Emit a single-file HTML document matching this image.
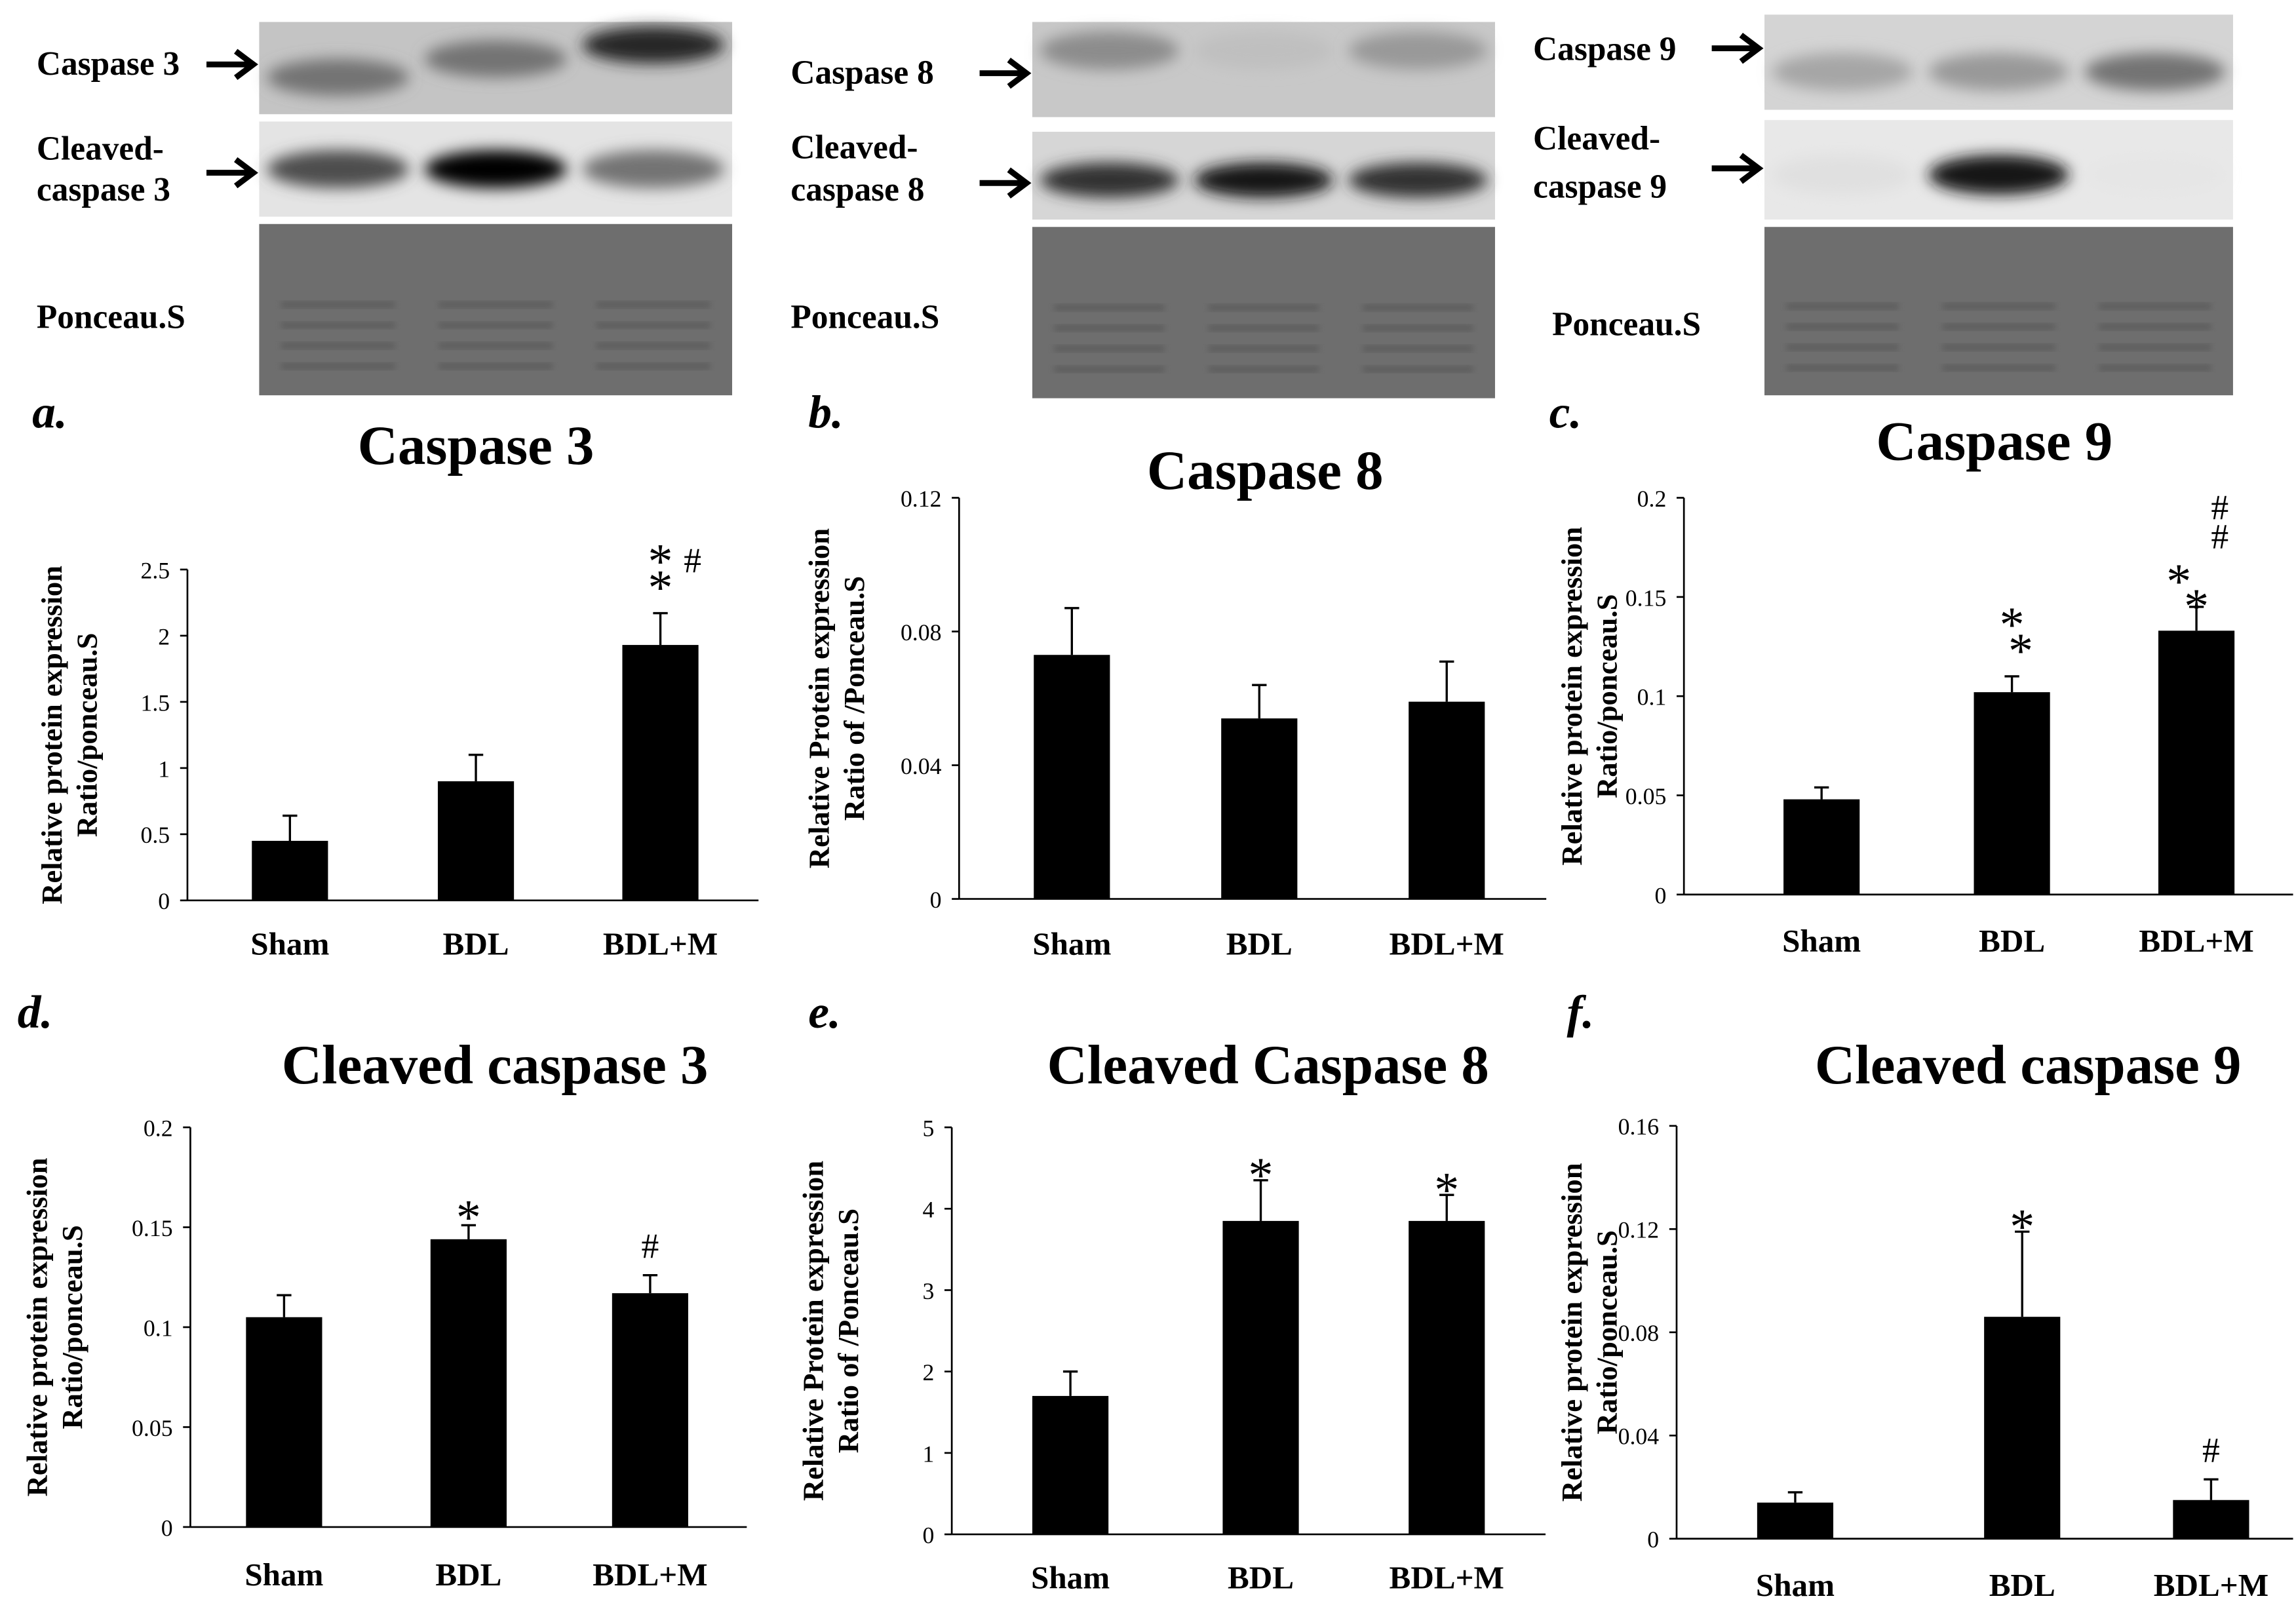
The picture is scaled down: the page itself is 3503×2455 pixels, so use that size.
<!DOCTYPE html>
<html><head><meta charset="utf-8"><style>
html,body{margin:0;padding:0;background:#fff;}
svg{display:block;}
text{font-family:"Liberation Serif",serif;font-weight:bold;fill:#000;}
</style></head><body>
<svg id="fig" width="3503" height="2455" viewBox="0 0 1568 1099" preserveAspectRatio="none" xmlns="http://www.w3.org/2000/svg">
<defs>
<filter id="blur" x="-20%" y="-50%" width="140%" height="200%"><feGaussianBlur stdDeviation="5"/></filter>
<filter id="blur2"><feGaussianBlur stdDeviation="2"/></filter>
</defs>
<g id="blots"></g>
<g id="charts"></g>
</svg>
<script>
const NS="http://www.w3.org/2000/svg";
const categories=["Sham","BDL","BDL+M"];
const casp3Values=[0.45,0.9,1.93];
const casp3Errors=[0.19,0.2,0.24];
const casp3Ticks=["0","0.5","1","1.5","2","2.5"];
const casp8Values=[0.073,0.054,0.059];
const casp8Errors=[0.014,0.01,0.012];
const casp8Ticks=["0","0.04","0.08","0.12"];
const casp9Values=[0.048,0.102,0.133];
const casp9Errors=[0.006,0.008,0.012];
const casp9Ticks=["0","0.05","0.1","0.15","0.2"];
const ccasp3Values=[0.105,0.144,0.117];
const ccasp3Errors=[0.011,0.007,0.009];
const ccasp3Ticks=["0","0.05","0.1","0.15","0.2"];
const ccasp8Values=[1.7,3.85,3.85];
const ccasp8Errors=[0.3,0.5,0.32];
const ccasp8Ticks=["0","1","2","3","4","5"];
const ccasp9Values=[0.014,0.086,0.015];
const ccasp9Errors=[0.004,0.033,0.008];
const ccasp9Ticks=["0","0.04","0.08","0.12","0.16"];

function mk(tag,attrs,parent,txt){const e=document.createElementNS(NS,tag);for(const k in attrs)e.setAttribute(k,attrs[k]);if(txt!==undefined)e.textContent=txt;parent.appendChild(e);return e;}

const panels=[
 {letter:"a.",lx:22,ly:292,title:"Caspase 3",tx:325,ty:317,ax:128,y0:615,y1:389,max:2.5,cx:[198,325,451],bw:52,vals:casp3Values,errs:casp3Errors,ticks:casp3Ticks,xl:652,yt:["Relative protein expression","Ratio/ponceau.S"],ytx:42,
  ann:[[2,"*",0,-38],[2,"*",0,-20],[2,"#",22,-28]]},
 {letter:"b.",lx:552,ly:292,title:"Caspase 8",tx:864,ty:334,ax:655,y0:614,y1:340,max:0.12,cx:[732,860,988],bw:52,vals:casp8Values,errs:casp8Errors,ticks:casp8Ticks,xl:652,yt:["Relative Protein expression","Ratio of /Ponceau.S"],ytx:566,ann:[]},
 {letter:"c.",lx:1058,ly:292,title:"Caspase 9",tx:1362,ty:314,ax:1150,y0:611,y1:340,max:0.2,cx:[1244,1374,1500],bw:52,vals:casp9Values,errs:casp9Errors,ticks:casp9Ticks,xl:650,yt:["Relative protein expression","Ratio/ponceau.S"],ytx:1080,
  ann:[[1,"*",0,-38],[1,"*",6,-20],[2,"*",-12,-20],[2,"*",0,-3],[2,"#",16,-40],[2,"#",16,-60]]},
 {letter:"d.",lx:12,ly:702,title:"Cleaved caspase 3",tx:338,ty:740,ax:130,y0:1043,y1:770,max:0.2,cx:[194,320,444],bw:52,vals:ccasp3Values,errs:ccasp3Errors,ticks:ccasp3Ticks,xl:1083,yt:["Relative protein expression","Ratio/ponceau.S"],ytx:32,
  ann:[[1,"*",0,-8],[2,"#",0,-12]]},
 {letter:"e.",lx:552,ly:702,title:"Cleaved Caspase 8",tx:866,ty:740,ax:650,y0:1048,y1:770,max:5,cx:[731,861,988],bw:52,vals:ccasp8Values,errs:ccasp8Errors,ticks:ccasp8Ticks,xl:1085,yt:["Relative Protein expression","Ratio of /Ponceau.S"],ytx:562,
  ann:[[1,"*",0,-6],[2,"*",0,-6]]},
 {letter:"f.",lx:1070,ly:702,title:"Cleaved caspase 9",tx:1385,ty:740,ax:1145,y0:1051,y1:769,max:0.16,cx:[1226,1381,1510],bw:52,vals:ccasp9Values,errs:ccasp9Errors,ticks:ccasp9Ticks,xl:1090,yt:["Relative protein expression","Ratio/ponceau.S"],ytx:1080,
  ann:[[1,"*",0,-6],[2,"#",0,-12]]}
];
const charts=document.getElementById("charts");
panels.forEach((p,pi)=>{
 const g=mk("g",{},charts);
 
 
 const yScale=v=>p.y0-(v/p.max)*(p.y0-p.y1);
 const L=mk("text",{x:p.lx,y:p.ly,"font-size":32,"font-style":"italic"},g,p.letter);
 
 
 const T=mk("text",{x:p.tx,y:p.ty,"font-size":38,"text-anchor":"middle"},g,p.title);
 
 
 const ax=mk("line",{x1:p.ax,y1:p.y1,x2:p.ax,y2:p.y0,stroke:"#000","stroke-width":1.2},g);
 
 
 const xa=mk("line",{x1:p.ax,y1:p.y0,x2:Math.min(1566,p.cx[2]+(p.cx[2]-p.cx[1])/2+4),y2:p.y0,stroke:"#000","stroke-width":1.2},g);
 
 
 const n=p.ticks.length-1;
 p.ticks.forEach((t,i)=>{
  const v=p.max*i/n, y=yScale(v);
  mk("line",{x1:p.ax-5,y1:y,x2:p.ax,y2:y,stroke:"#000","stroke-width":1.2},g);
  const tl=mk("text",{x:p.ax-12,y:y+6,"font-size":16,"text-anchor":"end",style:"font-weight:normal"},g,t);
  
  
 });
 const yt=mk("text",{transform:`translate(${p.ytx},${(p.y0+p.y1)/2}) rotate(-90)`,"font-size":20,"text-anchor":"middle"},g);
 
 
 mk("tspan",{x:0,dy:0},yt,p.yt[0]);
 mk("tspan",{x:0,dy:24},yt,p.yt[1]);
 p.vals.forEach((v,i)=>{
  const top=yScale(v), et=yScale(v+p.errs[i]);
  const b=mk("rect",{x:p.cx[i]-p.bw/2,y:top,width:p.bw,height:p.y0-top,fill:"#000"},g);
  
  
  const e=mk("path",{d:`M${p.cx[i]},${top}V${et}M${p.cx[i]-5},${et}H${p.cx[i]+5}`,stroke:"#000","stroke-width":1.5,fill:"none"},g);
  
  
  const xl=mk("text",{x:p.cx[i],y:p.xl,"font-size":22,"text-anchor":"middle"},g,categories[i]);
  
  
 });
 p.ann.forEach(a=>{
  const i=a[0], y=yScale(p.vals[i]+p.errs[i]);
  const s=mk("text",{x:p.cx[i]+a[2],y:y+a[3]+(a[1]=="*"?14:0),"font-size":a[1]=="*"?34:24,style:"font-weight:normal","text-anchor":"middle"},g,a[1]);
  
  
 });
});

// blots
const blots=document.getElementById("blots");
const blotPanels=[
 {x:177,w:323,rows:[[15,78,"#c4c4c4",[0.55,0.55,0.85],[0.6,0.4,0.25]],[83,148,"#e4e4e4",[0.7,1,0.55],[0.5,0.5,0.5]],[153,270,"#6e6e6e",null]],
  labels:[["Caspase 3",25,51,44],["Cleaved-",25,109,null],["caspase 3",25,137,118],["Ponceau.S",25,224,null]]},
 {x:705,w:316,rows:[[15,80,"#c8c8c8",[0.45,0.25,0.4],[0.3,0.3,0.3]],[90,150,"#d6d6d6",[0.8,0.9,0.8],[0.55,0.55,0.55]],[155,272,"#6e6e6e",null]],
  labels:[["Caspase 8",540,57,50],["Cleaved-",540,108,null],["caspase 8",540,137,125]],extra:[["Ponceau.S",540,224]]},
 {x:1205,w:320,rows:[[10,75,"#d4d4d4",[0.35,0.4,0.55],[0.6,0.6,0.6]],[82,150,"#e8e8e8",[0.12,0.9,0.1],[0.55,0.55,0.55]],[155,270,"#6e6e6e",null]],
  labels:[["Caspase 9",1047,41,33],["Cleaved-",1047,102,null],["caspase 9",1047,135,115]],extra:[["Ponceau.S",1060,229]]}
];
blotPanels.forEach((bp,bi)=>{
 const g=mk("g",{},blots);
 
 
 bp.rows.forEach(r=>{
  const h=r[1]-r[0];
  const rr=mk("rect",{x:bp.x,y:r[0],width:bp.w,height:h,fill:r[2]},g);
  
  
  const lw=bp.w/3;
  if(r[3]){
   r[3].forEach((d,i)=>{
    const c=Math.round(255*(1-d));
    const e=mk("ellipse",{cx:bp.x+lw*(i+0.5),cy:r[0]+h*r[4][i],rx:lw*0.45,ry:h*0.2,fill:`rgb(${c},${c},${c})`,filter:"url(#blur)"},g);
    
    
   });
  } else {
   for(let i=0;i<3;i++)for(let k=0;k<4;k++){
    mk("rect",{x:bp.x+lw*i+15,y:r[0]+h*0.45+k*14,width:lw-30,height:5,fill:"#555",filter:"url(#blur2)",opacity:0.6},g);
   }
  }
 });
 bp.labels.concat(bp.extra||[]).forEach(l=>{
  const t=mk("text",{x:l[1],y:l[2],"font-size":23},g,l[0]);
  
  
  if(l[3]){
   const ax0=bp.x-36, ay=l[3];
   const ar=mk("path",{d:`M${ax0},${ay}H${bp.x-4}M${bp.x-16},${ay-9}L${bp.x-4},${ay}L${bp.x-16},${ay+9}`,stroke:"#000","stroke-width":4,fill:"none"},g);
   
   
  }
 });
});
</script>
</body></html>
